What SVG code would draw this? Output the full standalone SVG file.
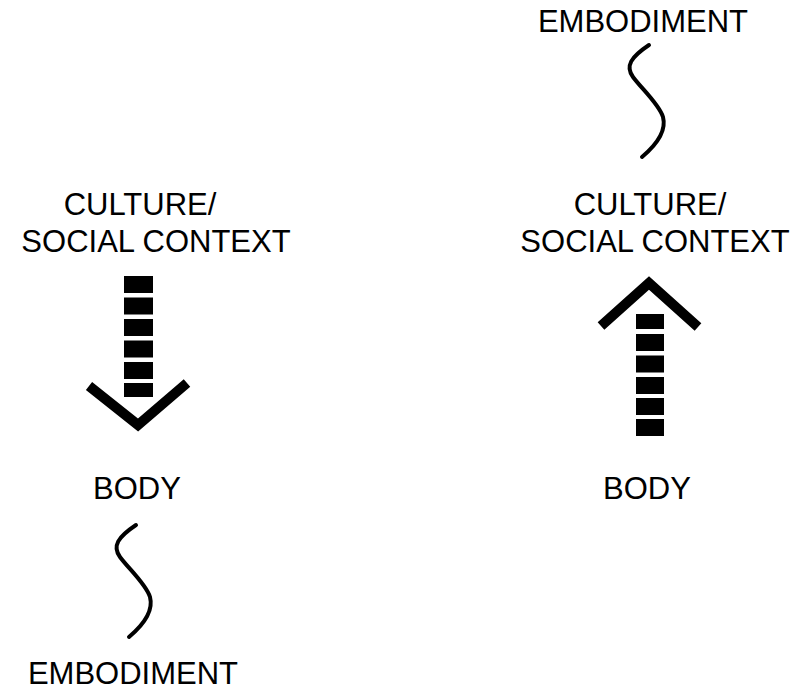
<svg xmlns="http://www.w3.org/2000/svg" xmlns:xlink="http://www.w3.org/1999/xlink" width="801" height="697" viewBox="0 0 801 697">
  <style>
    .lbl { font-family: "Liberation Sans", Arial, Helvetica, sans-serif; font-size: 31px; fill: #000; text-anchor: middle; }
    .chev { fill: none; stroke: #000; stroke-width: 10; stroke-linejoin: miter; stroke-linecap: butt; }
    .wave { fill: none; stroke: #000; stroke-width: 4; stroke-linecap: round; }
    .seg { fill: #000; }
  </style>
  <defs>
    <path id="squiggle" d="M136,525 C118,537 112,546 120,557 C128,568 146,584 150,597 C154,612 142,626 129,637"/>
  </defs>
  <rect width="801" height="697" fill="#fff"/>

  <!-- left column: culture acting down on the body -->
  <g id="left-culture">
    <text class="lbl" x="140" y="215">CULTURE/</text>
    <text class="lbl" x="156" y="252">SOCIAL CONTEXT</text>
  </g>
  <g id="left-body">
    <text class="lbl" x="137" y="499">BODY</text>
  </g>
  <g id="left-embodiment">
    <text class="lbl" x="133" y="684">EMBODIMENT</text>
  </g>

  <!-- right column: the body acting up on culture -->
  <g id="right-embodiment">
    <text class="lbl" x="643" y="32">EMBODIMENT</text>
  </g>
  <g id="right-culture">
    <text class="lbl" x="650" y="215">CULTURE/</text>
    <text class="lbl" x="655" y="252">SOCIAL CONTEXT</text>
  </g>
  <g id="right-body">
    <text class="lbl" x="647" y="499">BODY</text>
  </g>

  <g id="connectors">
    <!-- downward dashed arrow -->
    <g id="arrow-down">
      <rect class="seg" x="124" y="276" width="29" height="17"/>
      <rect class="seg" x="124" y="297.5" width="29" height="17"/>
      <rect class="seg" x="124" y="319" width="29" height="17"/>
      <rect class="seg" x="124" y="340.5" width="29" height="17"/>
      <rect class="seg" x="124" y="362" width="29" height="17"/>
      <rect class="seg" x="124" y="383" width="29" height="14"/>
      <polyline class="chev" points="89,386 138,425 187,383"/>
    </g>
    <!-- upward dashed arrow -->
    <g id="arrow-up">
      <polyline class="chev" points="601,326 649,283 698,327"/>
      <rect class="seg" x="636" y="314" width="28" height="15"/>
      <rect class="seg" x="636" y="334" width="28" height="17"/>
      <rect class="seg" x="636" y="355.5" width="28" height="17"/>
      <rect class="seg" x="636" y="377" width="28" height="17"/>
      <rect class="seg" x="636" y="398" width="28" height="17"/>
      <rect class="seg" x="636" y="419" width="28" height="17"/>
    </g>
    <!-- wavy links to embodiment -->
    <use class="wave" xlink:href="#squiggle"/>
    <use class="wave" xlink:href="#squiggle" transform="translate(513,-480)"/>
  </g>
</svg>
